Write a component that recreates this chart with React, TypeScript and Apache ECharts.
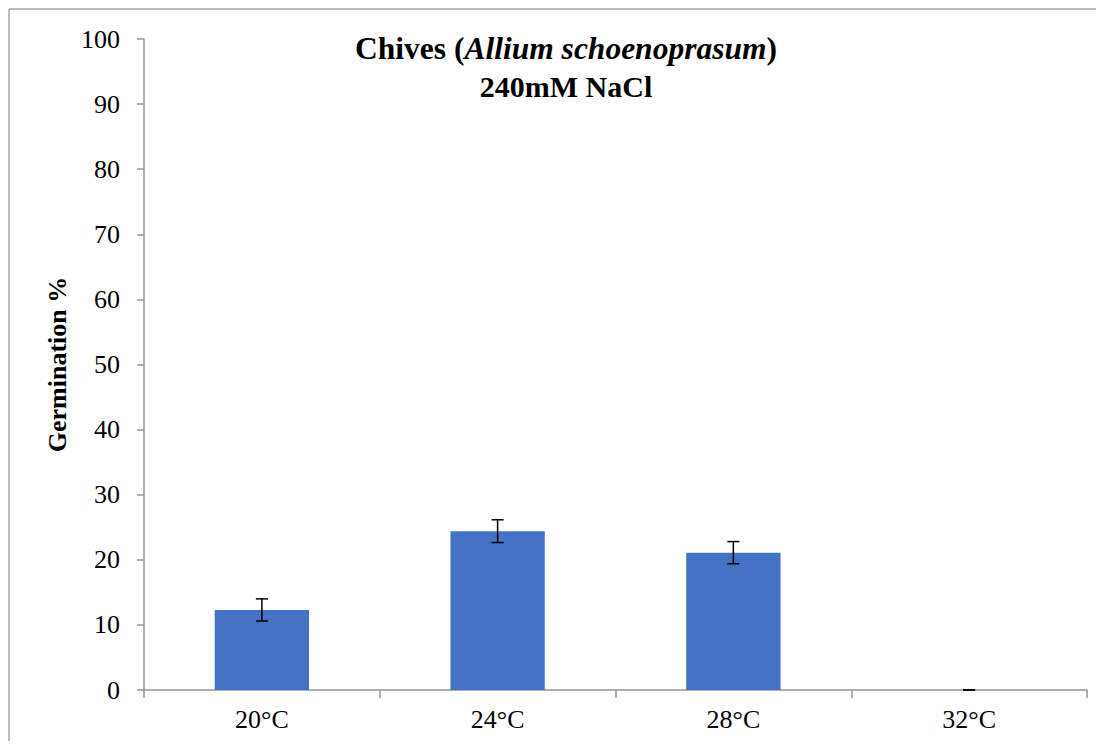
import React, { useEffect, useRef } from "react";
import * as echarts from "echarts";

const categories = ["20°C", "24°C", "28°C", "32°C"];
const germination = [12.3, 24.4, 21.1, 0];
const errors = [1.7, 1.75, 1.7, 0];
const yTicks = { min: 0, max: 100, interval: 10 };
const titleParts = [
  { text: "Chives (", italic: false },
  { text: "Allium schoenoprasum", italic: true },
  { text: ")", italic: false },
];
const subtitle = "240mM NaCl";

const FONT = "Liberation Serif";

function fontOf(italic: boolean, size: number) {
  return (italic ? "italic " : "") + "bold " + size + "px '" + FONT + "'";
}

export default function App() {
  const ref = useRef<HTMLDivElement>(null);
  useEffect(() => {
    if (!ref.current) return;
    const chart = echarts.init(ref.current, null, { renderer: "svg" });
    const errData = germination.map((v, i) => [i, v - errors[i], v + errors[i]]);

    const t1Size = 31.5;
    const ctx = document.createElement("canvas").getContext("2d")!;
    const widths = titleParts.map((p) => {
      ctx.font = fontOf(p.italic, t1Size);
      return ctx.measureText(p.text).width;
    });
    const total = widths.reduce((a, b) => a + b, 0);
    const cx = 558;
    let x = cx - total / 2;
    const titleEls = titleParts.map((p, k) => {
      const el = {
        type: "text",
        x,
        y: 40,
        style: {
          text: p.text,
          align: "left",
          verticalAlign: "middle",
          fill: "#000",
          font: fontOf(p.italic, t1Size),
        },
      };
      x += widths[k];
      return el;
    });

    chart.setOption({
      animation: false,
      backgroundColor: "#ffffff",
      textStyle: { fontFamily: FONT },
      graphic: [
        { type: "line", shape: { x1: 1, y1: 1, x2: 1, y2: 733 }, style: { stroke: "#a6a6a6", lineWidth: 1.5 } },
        { type: "line", shape: { x1: 1, y1: 1, x2: 1096, y2: 1 }, style: { stroke: "#a6a6a6", lineWidth: 1.5 } },
        ...titleEls,
        {
          type: "text",
          x: cx,
          y: 78,
          style: {
            text: subtitle,
            align: "center",
            verticalAlign: "middle",
            fill: "#000",
            font: fontOf(false, 30),
          },
        },
      ],
      grid: { left: 136, right: 17, top: 31, bottom: 51, containLabel: false },
      xAxis: {
        type: "category",
        data: categories,
        axisLine: { lineStyle: { color: "#959595", width: 1.5 } },
        axisTick: { show: true, length: 8, lineStyle: { color: "#959595", width: 1.5 } },
        axisLabel: { fontFamily: FONT, fontSize: 26, color: "#000", margin: 16 },
        splitLine: { show: false },
      },
      yAxis: {
        type: "value",
        min: yTicks.min,
        max: yTicks.max,
        interval: yTicks.interval,
        name: "Germination %",
        nameLocation: "middle",
        nameGap: 71,
        nameTextStyle: { fontFamily: FONT, fontSize: 26, fontWeight: "bold", color: "#000" },
        axisLine: { show: true, lineStyle: { color: "#959595", width: 1.5 } },
        axisTick: { show: true, length: 7, lineStyle: { color: "#959595", width: 1.5 } },
        axisLabel: { fontFamily: FONT, fontSize: 26, color: "#000", margin: 24 },
        splitLine: { show: false },
      },
      series: [
        {
          type: "bar",
          data: germination,
          barWidth: "40%",
          itemStyle: { color: "#4472C4" },
        },
        {
          type: "custom",
          data: errData,
          z: 10,
          renderItem: (params: any, api: any) => {
            const i = api.value(0);
            const lo = api.coord([i, api.value(1)]);
            const hi = api.coord([i, api.value(2)]);
            const hw = 6;
            const st = { stroke: "#000", lineWidth: 1.5 };
            return {
              type: "group",
              children: [
                { type: "line", shape: { x1: hi[0], y1: hi[1], x2: lo[0], y2: lo[1] }, style: st },
                { type: "line", shape: { x1: hi[0] - hw, y1: hi[1], x2: hi[0] + hw, y2: hi[1] }, style: st },
                { type: "line", shape: { x1: lo[0] - hw, y1: lo[1], x2: lo[0] + hw, y2: lo[1] }, style: st },
              ],
            };
          },
        },
      ],
    });
    return () => chart.dispose();
  }, []);
  return <div ref={ref} style={{ width: 1096, height: 733 }} />;
}
